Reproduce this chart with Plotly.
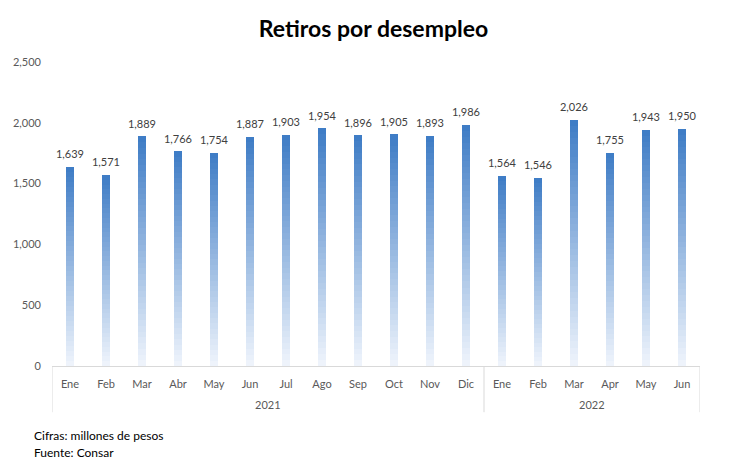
import plotly.graph_objects as go

years = ["2021"] * 12 + ["2022"] * 6
months = ["Ene", "Feb", "Mar", "Abr", "May", "Jun", "Jul", "Ago", "Sep", "Oct", "Nov", "Dic",
          "Ene", "Feb", "Mar", "Apr", "May", "Jun"]
values = [1639, 1571, 1889, 1766, 1754, 1887, 1903, 1954, 1896, 1905, 1893, 1986,
          1564, 1546, 2026, 1755, 1943, 1950]

title = "Retiros por desempleo"
notes = ["Cifras: millones de pesos", "Fuente: Consar"]

top_rgb = (61, 123, 197)
bot_rgb = (240, 245, 252)
N = 40
xs = list(range(len(values)))

fig = go.Figure()
for i in range(N):
    t = (i + 0.5) / N
    c = tuple(round(bot_rgb[k] + (top_rgb[k] - bot_rgb[k]) * t) for k in range(3))
    fig.add_trace(go.Bar(
        x=xs,
        y=[v / N for v in values],
        marker=dict(color="rgb(%d,%d,%d)" % c, line=dict(width=0)),
        hoverinfo="skip",
        showlegend=False,
    ))

fig.add_trace(go.Scatter(
    x=xs, y=values, mode="markers+text",
    marker=dict(size=8, color="rgba(0,0,0,0)"),
    text=[f"{v:,}" for v in values], textposition="top center",
    textfont=dict(family="Lato", size=11, color="#404040"),
    cliponaxis=False, hoverinfo="skip", showlegend=False,
))

fig.update_layout(
    width=747, height=476,
    barmode="stack",
    bargap=0.78,
    paper_bgcolor="white",
    plot_bgcolor="white",
    margin=dict(l=52, r=47, t=62, b=110),
    title=dict(text="<b>" + title + "</b>", x=0.5, xanchor="center", y=0.94, yanchor="middle",
               font=dict(family="Lato", size=23, color="black")),
    font=dict(family="Lato", size=11, color="#595959"),
)
fig.update_yaxes(range=[0, 2500], dtick=500, tickformat=",", showgrid=False, zeroline=False,
                 showline=False, ticks="", ticklabelstandoff=10,
                 tickfont=dict(size=11, color="#595959"))
fig.update_xaxes(range=[-0.5, len(values) - 0.5], tickvals=xs, ticktext=months,
                 showline=True, linecolor="#d9d9d9", linewidth=1, ticks="",
                 ticklabelstandoff=8, tickfont=dict(size=11, color="#595959"),
                 showgrid=False, zeroline=False)

# group labels and dividers derived from the year list
groups = []
for i, y in enumerate(years):
    if not groups or groups[-1][0] != y:
        groups.append([y, i, i])
    else:
        groups[-1][2] = i
bounds = [groups[0][1] - 0.5] + [g[2] + 0.5 for g in groups]
for b in bounds:
    fig.add_shape(type="line", xref="x", yref="paper", x0=b, x1=b, y0=0, y1=-0.152,
                  line=dict(color="#d9d9d9", width=1))
for y, a, b in groups:
    fig.add_annotation(text=y, xref="x", yref="paper", x=(a + b) / 2, y=-0.125,
                       yanchor="middle", showarrow=False,
                       font=dict(family="Lato", size=11, color="#595959"))

for j, n in enumerate(notes):
    fig.add_annotation(text=n, xref="paper", yref="paper", x=-0.031, xanchor="left",
                       y=-0.23 - j * 0.053, yanchor="middle", showarrow=False,
                       font=dict(family="Lato", size=12, color="black"))

fig.write_html("out.html")
